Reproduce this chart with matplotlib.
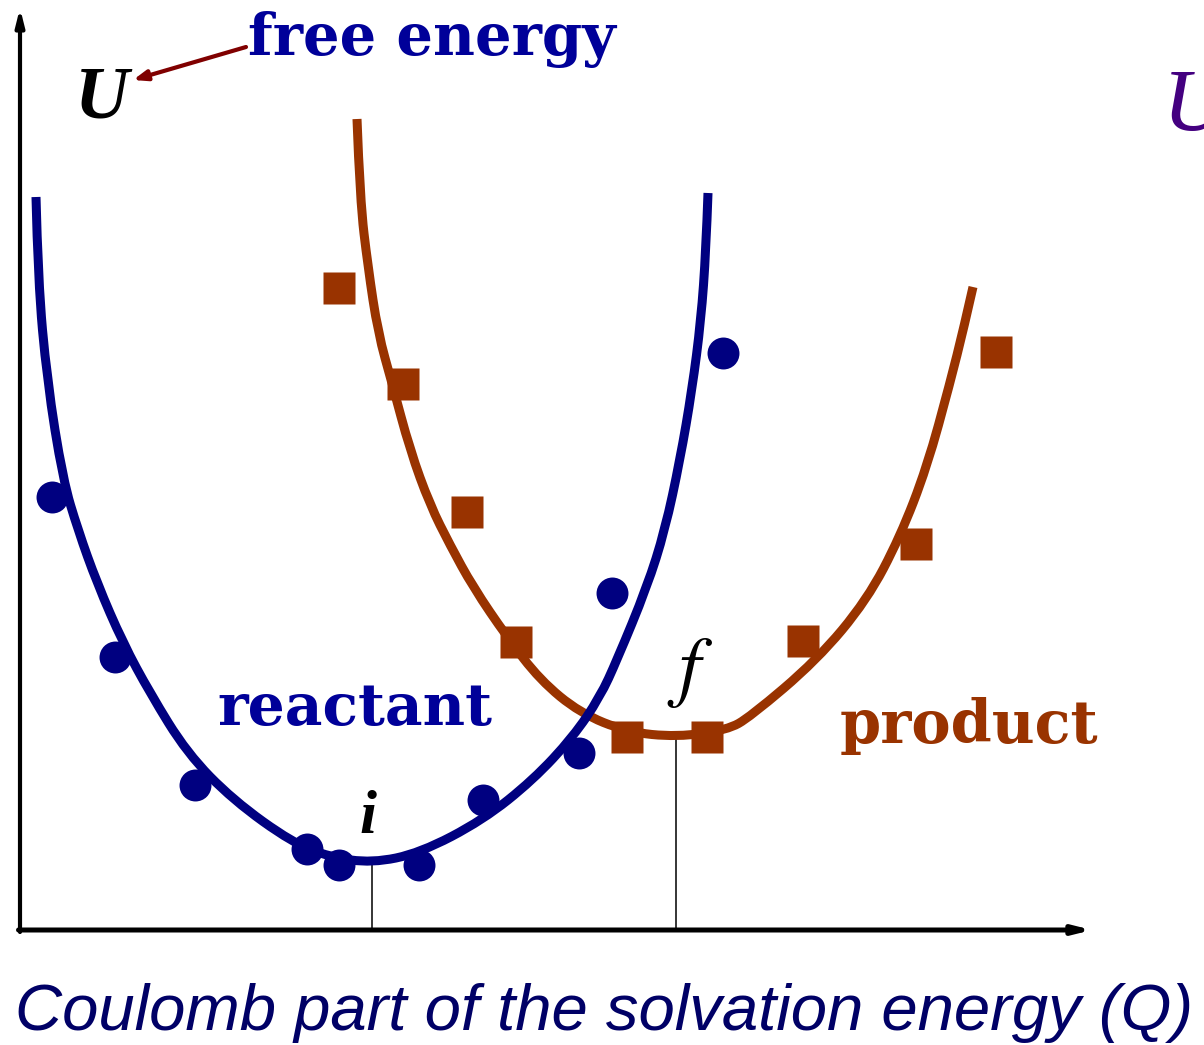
import matplotlib
matplotlib.use("Agg")
import numpy as np
import matplotlib.pyplot as plt
from matplotlib.path import Path
from matplotlib.patches import PathPatch

# Coordinates: Q along the horizontal axis, U up the vertical axis,
# both measured from the axes corner (arbitrary units)

# reactant free-energy curve
reactant_q = [16, 18, 27, 43, 58, 77, 103, 130, 167, 213, 273, 310, 352,
              400, 463, 513, 553, 580, 597, 627, 645, 660, 672, 681, 686, 688]
reactant_u = [733, 650, 550, 450, 400, 347, 287, 237, 177, 130, 87, 73, 67,
              77, 110, 150, 193, 233, 270, 343, 400, 470, 540, 610, 680, 737]

# product free-energy curve
product_q = [337, 340, 348, 358, 372, 390, 410, 430, 453, 487, 520, 560, 607,
             657, 707, 730, 797, 847, 880, 907, 930, 944, 953]
product_u = [811, 730, 663, 597, 547, 480, 425, 385, 343, 293, 250, 217, 198,
             193, 200, 213, 270, 330, 393, 463, 547, 603, 643]

# simulation points
reactant_pts_q = [32, 95, 175, 287, 319, 399, 463, 559, 592, 703]
reactant_pts_u = [433, 273, 145, 81, 65, 65, 130, 177, 337, 577]

product_pts_q = [319, 383, 447, 496, 607, 687, 783, 896, 976]
product_pts_u = [642, 546, 418, 288, 193, 193, 289, 386, 578]

# minima (i and f)
min_q = [352, 656]
min_u = [65, 193]

BLUE = "#000080"
TXT_BLUE = "#000099"
BROWN = "#993300"


def smooth_curve(ax, xs, ys, **kw):
    # quadratic bezier through the midpoints, read points used as control points
    pts = list(zip(xs, ys))
    verts = [pts[0]]
    codes = [Path.MOVETO]
    for k in range(1, len(pts) - 1):
        mid = ((pts[k][0] + pts[k + 1][0]) / 2, (pts[k][1] + pts[k + 1][1]) / 2)
        if k == len(pts) - 2:
            mid = pts[-1]
        verts += [pts[k], mid]
        codes += [Path.CURVE3, Path.CURVE3]
    patch = PathPatch(Path(verts, codes), fill=False, capstyle="butt", **kw)
    ax.add_patch(patch)


fig = plt.figure(figsize=(12.04, 10.45), dpi=100)
ax = fig.add_axes([0, 0, 1, 1])
ax.set_xlim(-20, 1184)
ax.set_ylim(-115, 930)
ax.axis("off")

# axes with arrows
ax.annotate("", xy=(0, 922), xytext=(0, -2),
            arrowprops=dict(arrowstyle="-|>,head_length=1.0,head_width=0.25",
                            lw=3.0, color="black", shrinkA=0, shrinkB=0))
ax.annotate("", xy=(1072, 0), xytext=(-1.5, 0),
            arrowprops=dict(arrowstyle="-|>,head_length=1.0,head_width=0.25",
                            lw=3.6, color="black", shrinkA=0, shrinkB=0))

# drop lines at minima
ax.vlines(min_q, 0, min_u, color="black", lw=1.1, zorder=1)

# curves
smooth_curve(ax, product_q, product_u, edgecolor=BROWN, lw=6.5, zorder=2)
smooth_curve(ax, reactant_q, reactant_u, edgecolor=BLUE, lw=6.5, zorder=3)

# markers
ax.plot(product_pts_q, product_pts_u, ls="none", marker="s", ms=23.5,
        color=BROWN, mec="none", zorder=4)
ax.plot(reactant_pts_q, reactant_pts_u, ls="none", marker="o", ms=23,
        color=BLUE, mec="none", zorder=4)

# labels
ax.text(228, 875, "free energy", color=TXT_BLUE, fontsize=41.5,
        family="DejaVu Serif", weight="bold", ha="left", va="baseline")
ax.text(55, 813, "U", color="black", fontsize=54,
        family="Liberation Serif", weight="bold", style="italic",
        ha="left", va="baseline")
ax.text(1143, 800, "U", color="#440080", fontsize=64,
        family="Liberation Serif", style="italic", ha="left", va="baseline")
ax.annotate("", xy=(113, 850), xytext=(226, 883),
            arrowprops=dict(arrowstyle="-|>,head_length=0.8,head_width=0.3",
                            lw=3, color="#800000", shrinkA=0, shrinkB=0))

ax.text(197, 205, "reactant", color=TXT_BLUE, fontsize=42,
        family="DejaVu Serif", weight="bold", ha="left", va="baseline")
ax.text(820, 187, "product", color=BROWN, fontsize=42.5,
        family="DejaVu Serif", weight="bold", ha="left", va="baseline")

ax.text(348, 97, "i", color="black", fontsize=44,
        family="Liberation Serif", weight="bold", style="italic",
        ha="center", va="baseline")
ax.text(670, 258, "$f$", color="black", fontsize=56, math_fontfamily="stix",
        ha="center", va="center")

ax.text(-5, -100, "Coulomb part of the solvation energy (Q)", color="#000066",
        fontsize=47, family="Liberation Sans",
        style="italic", ha="left", va="baseline")

fig.savefig("out.png", dpi=100)
